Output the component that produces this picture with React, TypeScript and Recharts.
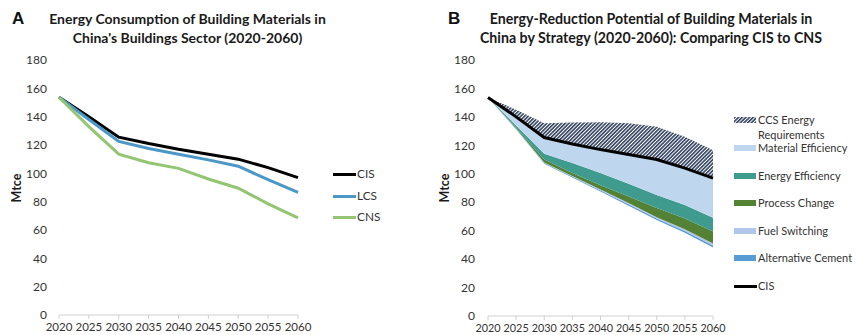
import React from 'react';
import { LineChart, Line, XAxis, YAxis, ComposedChart, Area } from 'recharts';

const years = [2020, 2025, 2030, 2035, 2040, 2045, 2050, 2055, 2060];
const yTicks = [0, 20, 40, 60, 80, 100, 120, 140, 160, 180];

// Panel A
const cis = [153.7, 140, 125.5, 121, 117, 113.5, 110, 104, 97];
const lcs = [153.7, 138, 122.5, 117.5, 113.5, 109.5, 105, 95.5, 86.5];
const cns = [153.7, 133, 113.5, 107.5, 103.5, 96, 89.5, 78.5, 68.5];

// Panel B (stacked layer thicknesses)
const remaining = [153.7, 131.2, 107, 97.3, 87.5, 77.5, 67.5, 58.5, 48.2];
const alternativeCement = [0, 0.3, 0.5, 0.7, 0.8, 1.0, 1.0, 1.3, 1.4];
const fuelSwitching = [0, 0.3, 0.5, 0.5, 0.7, 1.0, 1.0, 1.2, 1.4];
const processChange = [0, 0.7, 2, 2, 3, 4.5, 6.5, 7.5, 8.5];
const energyEfficiency = [0, 1.5, 4, 7, 8.5, 9, 9, 9.5, 9.5];
const materialEfficiency = [0, 6, 11.5, 13.5, 16.5, 20.5, 25, 26, 28];
const ccsEnergy = [0, 5, 10, 15, 19.3, 22, 23, 22, 19.5];

const dataA = years.map((y, i) => ({ year: y, CIS: cis[i], LCS: lcs[i], CNS: cns[i] }));
const dataB = years.map((y, i) => ({
  year: y,
  remaining: remaining[i],
  alt: alternativeCement[i],
  fuel: fuelSwitching[i],
  process: processChange[i],
  energy: energyEfficiency[i],
  material: materialEfficiency[i],
  ccs: ccsEnergy[i],
  CIS: cis[i],
}));

const FONT = 'Lato, "Open Sans", sans-serif';
const TXT = '#333333';
const AXIS = '#d0d0d0';

const C_CIS = '#000000';
const C_LCS = '#4b98c8';
const C_CNS = '#93c572';
const C_MAT = '#bfd7ee';
const C_EE = '#3f9b8e';
const C_PC = '#548235';
const C_FS = '#b0c6ea';
const C_AC = '#5b9bd5';
const C_HATCH = '#253555';

const yTickStyle = { fontSize: 12, fill: TXT, fontFamily: FONT };
const xTickStyleA = { fontSize: 11.5, fill: TXT, fontFamily: FONT };
const xTickStyleB = { fontSize: 10.8, fill: TXT, fontFamily: FONT };

const abs = (left: number, top: number, extra: React.CSSProperties = {}): React.CSSProperties => ({
  position: 'absolute',
  left,
  top,
  ...extra,
});

const Title = ({ cx, lines, size }: { cx: number; lines: string[]; size: number }) => (
  <div
    style={abs(cx - 220, 9, {
      width: 440,
      textAlign: 'center',
      fontFamily: FONT,
      fontWeight: 700,
      fontSize: size,
      lineHeight: '19px',
      color: '#1a1a1a',
    })}
  >
    {lines.map((l) => (
      <div key={l}>{l}</div>
    ))}
  </div>
);

const PanelLetter = ({ x, text }: { x: number; text: string }) => (
  <div
    style={abs(x, 9, {
      fontFamily: '"Liberation Sans", Arial, sans-serif',
      fontWeight: 700,
      fontSize: 17,
      lineHeight: '20px',
      color: '#111',
    })}
  >
    {text}
  </div>
);

const YLabel = ({ cx, cy }: { cx: number; cy: number }) => (
  <div
    style={abs(cx - 30, cy - 8, {
      width: 60,
      height: 16,
      textAlign: 'center',
      fontFamily: FONT,
      fontWeight: 700,
      fontSize: 12.5,
      lineHeight: '16px',
      color: '#1a1a1a',
      transform: 'rotate(-90deg)',
    })}
  >
    Mtce
  </div>
);

const LegendText = ({ x, y, text, size = 11.8 }: { x: number; y: number; text: string; size?: number }) => (
  <div
    style={abs(x, y - 6, {
      fontFamily: FONT,
      fontSize: size,
      lineHeight: '12px',
      color: TXT,
      whiteSpace: 'nowrap',
    })}
  >
    {text}
  </div>
);

const LineSwatch = ({ x, y, color }: { x: number; y: number; color: string }) => (
  <div style={abs(x, y - 1.5, { width: 23, height: 3, background: color })} />
);

const BoxSwatch = ({ x, y, color }: { x: number; y: number; color: string }) => (
  <div style={abs(x, y - 3, { width: 22, height: 6, background: color })} />
);

const HatchSwatch = ({ x, y }: { x: number; y: number }) => (
  <svg width={22} height={6} style={abs(x, y - 3)}>
    <defs>
      <pattern id="ccsHatchLegend" width="2.6" height="2.6" patternUnits="userSpaceOnUse" patternTransform="rotate(45)">
        <rect width="2.6" height="2.6" fill="#ffffff" />
        <line x1="0.8" y1="0" x2="0.8" y2="2.6" stroke={C_HATCH} strokeWidth="1.5" />
      </pattern>
    </defs>
    <rect width={22} height={6} fill="url(#ccsHatchLegend)" />
  </svg>
);

const LB = 11;

export default function App() {
  return (
    <div style={{ position: 'absolute', left: 0, top: 0, width: 856, height: 335, background: '#fff', overflow: 'hidden' }}>
      {/* Panel A */}
      <PanelLetter x={12} text="A" />
      <Title cx={187.5} size={14} lines={['Energy Consumption of Building Materials in', "China's Buildings Sector (2020-2060)"]} />
      <YLabel cx={17} cy={188} />
      <div style={abs(0, 0)}>
        <LineChart width={420} height={335} data={dataA} margin={{ top: 60, right: 122, bottom: 0, left: 0 }}>
          <XAxis
            dataKey="year"
            type="number"
            domain={[2020, 2060]}
            ticks={years}
            interval={0}
            height={20}
            tick={xTickStyleA}
            tickSize={4}
            tickMargin={4}
            stroke={AXIS}
            tickLine={{ stroke: AXIS }}
            axisLine={{ stroke: AXIS }}
          />
          <YAxis
            domain={[0, 180]}
            ticks={yTicks}
            interval={0}
            width={59}
            tick={yTickStyle}
            axisLine={false}
            tickLine={false}
            tickSize={0}
            tickMargin={12}
          />
          <Line dataKey="CIS" stroke={C_CIS} strokeWidth={3} dot={false} isAnimationActive={false} />
          <Line dataKey="LCS" stroke={C_LCS} strokeWidth={3} dot={false} isAnimationActive={false} />
          <Line dataKey="CNS" stroke={C_CNS} strokeWidth={3} dot={false} isAnimationActive={false} />
        </LineChart>
      </div>
      <LineSwatch x={333} y={174} color={C_CIS} />
      <LegendText x={357} y={174} text="CIS" />
      <LineSwatch x={333} y={196} color={C_LCS} />
      <LegendText x={357} y={196} text="LCS" />
      <LineSwatch x={333} y={217} color={C_CNS} />
      <LegendText x={357} y={217} text="CNS" />

      {/* Panel B */}
      <PanelLetter x={448} text="B" />
      <Title
        cx={651}
        size={14.2}
        lines={['Energy-Reduction Potential of Building Materials in', 'China by Strategy (2020-2060): Comparing CIS to CNS']}
      />
      <YLabel cx={445} cy={188} />
      <div style={abs(430, 0)}>
        <ComposedChart width={426} height={335} data={dataB} margin={{ top: 60, right: 143, bottom: 0, left: 0 }}>
          <defs>
            <pattern id="ccsHatch" width="2.6" height="2.6" patternUnits="userSpaceOnUse" patternTransform="rotate(45)">
              <rect width="2.6" height="2.6" fill="#ffffff" />
              <line x1="0.8" y1="0" x2="0.8" y2="2.6" stroke={C_HATCH} strokeWidth="1.5" />
            </pattern>
          </defs>
          <XAxis
            dataKey="year"
            type="number"
            domain={[2020, 2060]}
            ticks={years}
            interval={0}
            height={19}
            tick={xTickStyleB}
            tickSize={4}
            tickMargin={4}
            stroke={AXIS}
            tickLine={{ stroke: AXIS }}
            axisLine={{ stroke: AXIS }}
          />
          <YAxis
            domain={[0, 180]}
            ticks={yTicks}
            interval={0}
            width={58}
            tick={yTickStyle}
            axisLine={false}
            tickLine={false}
            tickSize={0}
            tickMargin={13}
          />
          <Area dataKey="remaining" stackId="b" fill="none" stroke="none" isAnimationActive={false} />
          <Area dataKey="alt" stackId="b" fill={C_AC} fillOpacity={1} stroke="none" isAnimationActive={false} />
          <Area dataKey="fuel" stackId="b" fill={C_FS} fillOpacity={1} stroke="none" isAnimationActive={false} />
          <Area dataKey="process" stackId="b" fill={C_PC} fillOpacity={1} stroke="none" isAnimationActive={false} />
          <Area dataKey="energy" stackId="b" fill={C_EE} fillOpacity={1} stroke="none" isAnimationActive={false} />
          <Area dataKey="material" stackId="b" fill={C_MAT} fillOpacity={1} stroke="none" isAnimationActive={false} />
          <Area dataKey="ccs" stackId="b" fill="url(#ccsHatch)" fillOpacity={1} stroke="none" isAnimationActive={false} />
          <Line dataKey="CIS" stroke={C_CIS} strokeWidth={3} dot={false} isAnimationActive={false} />
        </ComposedChart>
      </div>
      <HatchSwatch x={734} y={119.5} />
      <LegendText x={758} y={120} size={LB} text="CCS Energy" />
      <LegendText x={758} y={135} size={LB} text="Requirements" />
      <BoxSwatch x={734} y={148} color={C_MAT} />
      <LegendText x={758} y={148} size={LB} text="Material Efficiency" />
      <BoxSwatch x={734} y={175.5} color={C_EE} />
      <LegendText x={758} y={175.5} size={LB} text="Energy Efficiency" />
      <BoxSwatch x={734} y={203} color={C_PC} />
      <LegendText x={758} y={203} size={LB} text="Process Change" />
      <BoxSwatch x={734} y={230.5} color={C_FS} />
      <LegendText x={758} y={230.5} size={LB} text="Fuel Switching" />
      <BoxSwatch x={734} y={258} color={C_AC} />
      <LegendText x={758} y={258} size={LB} text="Alternative Cement" />
      <LineSwatch x={734} y={286} color={C_CIS} />
      <LegendText x={758} y={286} size={LB} text="CIS" />
    </div>
  );
}
